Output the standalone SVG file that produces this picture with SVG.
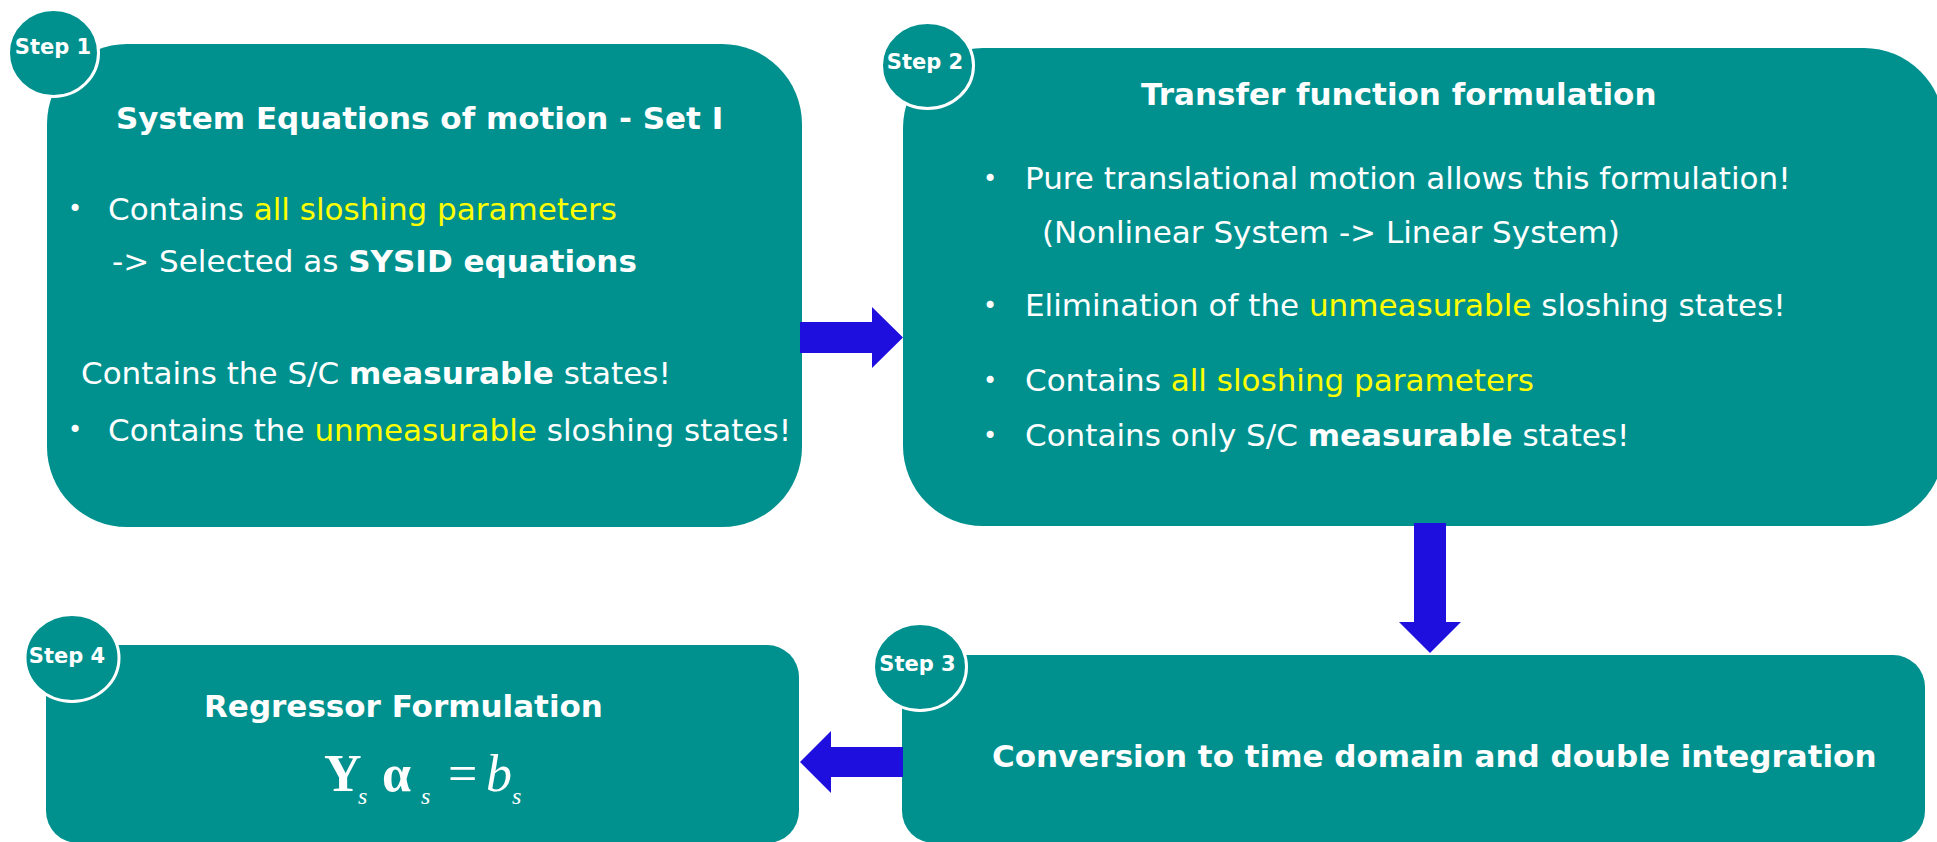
<svg xmlns="http://www.w3.org/2000/svg" width="1937" height="842" viewBox="0 0 1937 842">
  <style>
    .box { fill: #00918F; }
    .badge { fill: #00918F; stroke: #FFFFFF; stroke-width: 3; }
    .badge-label { font-family: "DejaVu Sans", Verdana, sans-serif; font-weight: bold; font-size: 21px; fill: #FFFFFF; text-anchor: middle; }
    .title { font-family: "DejaVu Sans", Verdana, sans-serif; font-weight: bold; font-size: 31px; fill: #FFFFFF; }
    .body { font-family: "DejaVu Sans", Verdana, sans-serif; font-size: 31px; fill: #FFFFFF; }
    .bullet { font-family: "DejaVu Sans", Verdana, sans-serif; font-size: 24px; fill: #FFFFFF; text-anchor: middle; }
    .hl { fill: #FFFF00; }
    .b { font-weight: bold; }
    .arrow { fill: #1F0FDF; }
    .math { font-family: "Liberation Serif", "Times New Roman", serif; fill: #FFFFFF; }
  </style>

  <!-- Step 1: equations of motion -->
  <g id="step1">
    <rect class="box" x="47" y="44" width="755" height="483" rx="80" ry="80"/>
    <ellipse class="badge" cx="53.5" cy="53" rx="45" ry="43.5"/>
    <text class="badge-label" x="53" y="54">Step 1</text>
    <text class="title" x="116" y="129">System Equations of motion - Set I</text>
    <text class="bullet" x="75" y="217">•</text>
    <text class="body" x="108" y="220">Contains <tspan class="hl">all sloshing parameters</tspan></text>
    <text class="body" x="112" y="272">-&gt; Selected as <tspan class="b">SYSID equations</tspan></text>
    <text class="body" x="81" y="384">Contains the S/C <tspan class="b">measurable</tspan> states!</text>
    <text class="bullet" x="75" y="438">•</text>
    <text class="body" x="108" y="441">Contains the <tspan class="hl">unmeasurable</tspan> sloshing states!</text>
  </g>

  <!-- Step 2: transfer function -->
  <g id="step2">
    <rect class="box" x="903" y="48" width="1041" height="478" rx="80" ry="80"/>
    <ellipse class="badge" cx="927.5" cy="65.5" rx="46" ry="43"/>
    <text class="badge-label" x="925" y="69">Step 2</text>
    <text class="title" x="1141" y="105">Transfer function formulation</text>
    <text class="bullet" x="990" y="187">•</text>
    <text class="body" x="1025" y="189">Pure translational motion allows this formulation!</text>
    <text class="body" x="1042" y="243">(Nonlinear System -&gt; Linear System)</text>
    <text class="bullet" x="990" y="314">•</text>
    <text class="body" x="1025" y="316">Elimination of the <tspan class="hl">unmeasurable</tspan> sloshing states!</text>
    <text class="bullet" x="990" y="389">•</text>
    <text class="body" x="1025" y="391">Contains <tspan class="hl">all sloshing parameters</tspan></text>
    <text class="bullet" x="990" y="444">•</text>
    <text class="body" x="1025" y="446">Contains only S/C <tspan class="b">measurable</tspan> states!</text>
  </g>

  <!-- Step 3: time domain conversion -->
  <g id="step3">
    <rect class="box" x="902" y="655" width="1023" height="188" rx="32" ry="32"/>
    <ellipse class="badge" cx="920" cy="667" rx="46.5" ry="43.5"/>
    <text class="badge-label" x="917.5" y="671">Step 3</text>
    <text class="title" x="992" y="767">Conversion to time domain and double integration</text>
  </g>

  <!-- Step 4: regressor -->
  <g id="step4">
    <rect class="box" x="46" y="645" width="753" height="198" rx="32" ry="32"/>
    <ellipse class="badge" cx="72" cy="658" rx="47" ry="43.5"/>
    <text class="badge-label" x="67" y="663">Step 4</text>
    <text class="title" x="204" y="717">Regressor Formulation</text>
    <text class="math" y="791"><tspan x="324" font-size="52" font-weight="bold">Y</tspan><tspan x="358" y="804" font-size="24" font-style="italic">s</tspan><tspan x="382" y="791" font-size="52" font-weight="bold">α</tspan><tspan x="421" y="804" font-size="24" font-style="italic">s</tspan><tspan x="448" y="791" font-size="52">=</tspan><tspan x="486" y="791" font-size="52" font-style="italic">b</tspan><tspan x="512" y="804" font-size="24" font-style="italic">s</tspan></text>
  </g>

  <!-- Block arrows between steps -->
  <g id="connectors">
    <polygon class="arrow" points="800,322 872,322 872,307 903,337.5 872,368 872,353 800,353"/>
    <polygon class="arrow" points="1414,523 1446,523 1446,622 1461,622 1430,653 1399,622 1414,622"/>
    <polygon class="arrow" points="903,747 831,747 831,731 800,762 831,793 831,777 903,777"/>
  </g>
</svg>
